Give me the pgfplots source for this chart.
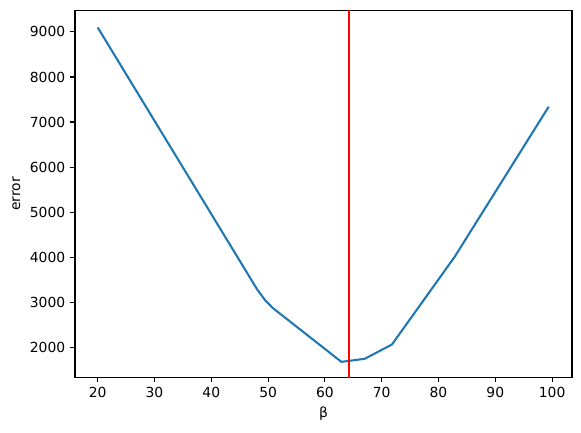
\documentclass[border=0pt]{standalone}
\usepackage{fontspec}
\setmainfont{DejaVu Sans}
\usepackage{pgfplots}
\pgfplotsset{compat=1.18}

\definecolor{mplblue}{HTML}{1F77B4}

\begin{document}
\begin{tikzpicture}
	\begin{axis}[
			scale only axis,
			width=358pt,
			height=264pt,
			xmin=16, xmax=103.5,
			ymin=1335, ymax=9472,
			xtick={20,30,...,100},
			ytick={2000,3000,...,9000},
			xtick pos=left, ytick pos=left,
			tick align=outside,
			major tick length=3.5pt,
			every tick/.style={black, line width=0.8pt},
			axis line style={line width=0.8pt},
			/pgf/number format/1000 sep={},
			/pgf/number format/assume math mode=true,
			tick label style={font=\fontsize{10}{12}\selectfont},
			label style={font=\fontsize{10}{12}\selectfont},
			xlabel={β},
			ylabel={error},
			clip=true,
		]
		% error curve
		\addplot[mplblue, line width=1.5pt] coordinates {
				(20,9100) (48.1,3279) (49.5,3040) (50.8,2874) (62.9,1676)
				(67.0,1743) (71.8,2060) (82.9,4018) (99.4,7340)
			};
		% chosen beta
		\addplot[red, line width=1.5pt] coordinates {(64.2,0) (64.2,10000)};
	\end{axis}
	\pgfresetboundingbox
	\path[use as bounding box] ([shift={(-54pt,-39.6pt)}]current axis.south west)
	rectangle ([shift={(6.5pt,7.7pt)}]current axis.north east);
\end{tikzpicture}
\end{document}
